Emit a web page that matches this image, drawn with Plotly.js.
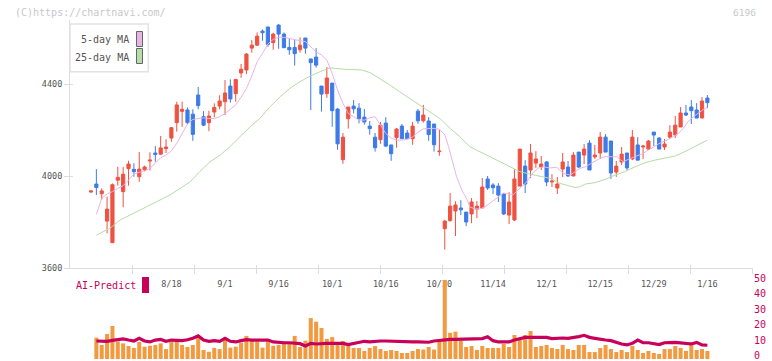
<!DOCTYPE html>
<html>
<head>
<meta charset="utf-8">
<script src="https://cdn.plot.ly/plotly-3.0.1.min.js"></script>
<style>html,body{margin:0;padding:0;background:#fff;}#chart{width:772px;height:361px;}</style>
</head>
<body>
<div id="chart"></div>
<script>
// ---- data (index = trading day) ----
const openP  = [3930,3965,3923,3804,3710,3982,3932,4032,4029,3997,4027,4065,4100,4095,4119,4165,4232,4281,4287,4269,4352,4258,4232,4278,4304,4323,4391,4358,4448,4461,4556,4569,4630,4648,4580,4656,4617,4559,4559,4549,4600,4509,4517,4391,4358,4404,4291,4071,4249,4304,4295,4256,4217,4169,4158,4230,4135,4167,4217,4187,4162,4282,4240,4239,4226,4106,3771,3806,3848,3861,3843,3835,3856,3861,3987,3961,3956,3922,3830,3809,3956,4043,4026,4056,4039,4061,3974,3948,4030,4039,4000,4104,4091,4143,4083,4100,4169,4152,4017,4061,4100,4074,4135,4126,4117,4191,4165,4126,4169,4178,4213,4274,4300,4287,4252,4339];
const highP  = [3937,4030,3946,3910,3968,4040,4040,4066,4055,4104,4045,4103,4130,4174,4160,4212,4323,4323,4298,4290,4387,4282,4284,4316,4351,4417,4420,4420,4487,4535,4591,4624,4637,4648,4623,4661,4624,4598,4591,4603,4600,4509,4556,4391,4474,4404,4295,4187,4300,4330,4317,4291,4239,4187,4235,4256,4135,4209,4226,4200,4235,4291,4309,4256,4226,4200,3809,3926,3890,3895,3843,3904,3891,3991,4000,3969,3969,3926,3930,4030,4117,4069,4139,4108,4087,4065,4008,3996,4100,4065,4104,4104,4139,4156,4135,4191,4182,4152,4065,4126,4100,4200,4169,4135,4156,4191,4169,4161,4221,4261,4300,4309,4330,4317,4343,4352];
const lowP   = [3928,3917,3896,3751,3710,3958,3864,3958,3997,3975,4020,4024,4062,4091,4100,4149,4193,4214,4226,4153,4290,4217,4195,4255,4290,4265,4319,4323,4427,4443,4536,4565,4588,4562,4549,4553,4556,4527,4480,4536,4532,4287,4471,4280,4340,4214,4114,4053,4206,4272,4229,4223,4180,4106,4140,4126,4066,4123,4162,4162,4136,4227,4232,4153,4106,4088,3680,3801,3739,3830,3782,3795,3817,3861,3939,3922,3887,3830,3791,3804,3956,3926,3991,4035,4026,3956,3952,3922,3996,3996,4000,4035,4052,4026,4074,4074,4104,3987,3996,4048,4026,4069,4069,4074,4113,4130,4117,4113,4161,4165,4213,4261,4226,4252,4252,4295];
const closeP = [3935,3950,3935,3856,3962,3994,4008,4052,4019,4030,4039,4069,4094,4122,4126,4210,4309,4290,4232,4181,4306,4221,4261,4298,4326,4361,4335,4420,4464,4530,4569,4608,4623,4572,4617,4617,4558,4549,4532,4569,4556,4493,4482,4356,4426,4284,4140,4169,4300,4292,4249,4235,4206,4123,4221,4130,4097,4204,4162,4162,4217,4240,4265,4180,4136,4108,3804,3869,3874,3853,3800,3887,3869,3952,3948,3949,3917,3835,3887,3987,4117,3965,4100,4074,4052,3974,3978,3965,4061,4000,4091,4039,4117,4026,4091,4169,4104,4013,4043,4095,4035,4169,4069,4130,4152,4178,4117,4139,4191,4221,4274,4265,4284,4252,4326,4319];
const volume = [0,13.5,8.9,15.8,20.9,11.0,9.9,8.2,7.0,10.8,7.8,8.4,8.9,9.9,6.3,11.0,11.0,8.9,7.6,8.9,13.1,5.7,4.6,7.0,6.3,12.0,7.2,7.8,10.3,14.6,11.6,11.0,7.2,11.0,8.4,8.9,9.9,9.9,14.6,7.6,11.6,25.9,23.6,19.6,12.7,13.9,9.3,11.4,8.9,7.0,7.0,5.1,7.0,8.2,6.3,5.1,5.7,5.1,3.8,3.8,5.1,6.3,6.0,7.6,6.0,11.4,50.0,16.6,17.3,11.4,7.6,8.2,5.7,8.2,7.0,7.0,7.0,9.5,7.6,15.2,12.0,15.2,17.7,7.6,8.2,8.9,7.0,6.3,8.9,6.3,5.7,8.9,8.9,4.4,4.4,7.0,8.9,6.3,4.4,5.7,4.4,8.2,5.7,3.8,5.1,3.8,3.2,6.3,6.3,8.2,7.0,5.1,10.8,5.7,6.3,5.1];
const aiPredict = [null,11.4,11.2,11.2,11.8,12.0,12.7,12.0,11.4,13.1,11.4,10.8,12.0,12.4,11.2,12.0,12.0,11.6,12.2,13.1,14.6,12.0,11.2,11.6,11.2,13.1,11.2,10.8,11.6,12.2,12.0,12.0,11.6,12.0,10.8,10.3,10.3,10.3,9.9,9.7,8.2,9.9,9.5,9.9,9.9,9.9,9.9,9.9,9.1,9.9,10.8,11.2,10.8,11.2,11.4,11.4,11.2,11.4,10.8,10.8,10.8,10.8,10.6,10.6,11.4,11.8,12.0,12.4,12.4,12.4,12.6,12.6,12.4,12.9,14.1,11.6,10.8,10.8,10.8,12.0,13.1,13.7,13.7,13.7,13.7,13.7,12.9,13.3,13.3,13.1,13.4,14.2,15.0,13.7,13.1,12.4,12.0,11.6,10.3,9.5,8.9,9.9,12.0,10.3,10.3,9.5,9.1,10.3,10.5,10.5,10.2,9.9,9.5,10.5,8.9,8.7];
const ma5Day = [1,2,3,4,5,6,7,8,9,10,11,12,13,14,15,16,17,18,19,20,21,22,23,24,25,26,27,28,29,30,31,32,33,34,35,36,37,38,39,40,41,42,43,44,45,46,47,48,49,50,51,52,53,54,55,56,57,58,59,60,61,62,63,64,65,66,66.7,67.3,68.2,69.2,70.1,70.7,71.6,72.6,73.5,75,76.9,78.8,80,81.3,82.5,83.5,84.4,85.6,86.9,88.1,89.4,90.3,91.2,92.2,93.1,94,95,95.9,96.5,97.4,98.1,98.7,99.3,100.2,101.2,102.1,103,104,104.9,105.8,106.8,107.7,108.6,109.6,110.5,111.4,112.4,113.3,114.3,115];
const ma5Val = [3833,3903,3922,3932,3946,3958,3982,4008,4016,4022,4033,4058,4080,4091,4109,4142,4185,4226,4246,4250,4253,4250,4250,4258,4272,4290,4309,4342,4381,4435,4497,4533,4574,4594,4603,4603,4597,4591,4588,4584,4562,4540,4526,4504,4446,4374,4316,4272,4258,4243,4243,4253,4258,4220,4185,4164,4156,4156,4160,4170,4190,4205,4207,4207,4203,4180,4128,4070,3997,3939,3900,3865,3857,3857,3866,3892,3925,3920,3945,3975,4015,4035,4040,4035,4038,4011,4004,4019,4033,4040,4052,4062,4077,4084,4084,4087,4084,4072,4062,4072,4081,4091,4098,4113,4124,4139,4149,4159,4171,4185,4207,4236,4258,4275,4290,4298];
const ma25Day = [1,3.5,5.4,7.3,9.1,11,12.9,14.7,16.6,18.5,20.3,22.2,24.1,25.9,27.8,29.7,31.5,33.4,35.3,37.1,39,40.9,42.7,44.6,47.4,50.5,52.1,53.9,55.8,57.6,59.5,61.4,63.2,65.1,67,68.8,70.7,72.6,74.4,76.3,78.2,80,81.9,83.8,85.6,87.5,89.4,90.3,91.2,92.2,94,95.9,97.8,99.6,101.5,103.4,105.2,107.1,109,110.8,112.7,114.6,115];
const ma25Val = [3743,3772,3808,3830,3852,3874,3895,3917,3946,3975,4019,4062,4091,4127,4171,4214,4250,4301,4345,4381,4410,4435,4453,4470,4464,4461,4449,4424,4395,4366,4337,4308,4279,4250,4207,4171,4127,4106,4084,4062,4040,4019,4008,4000,3990,3968,3956,3950,3953,3965,3971,3985,4004,4019,4040,4058,4069,4077,4087,4106,4130,4153,4156];
const dateLabels = ['8/18','9/1','9/16','10/1','10/16','10/30','11/14','12/1','12/15','12/29','1/16'];
const dateLabelDay = [15,25,35,45,55,65,75,85,95,105,115];
const priceTicks = [3600,4000,4400];
const volTicks = [0,10,20,30,40,50];
const legendNames = ['5-day MA','25-day MA'];

// ---- styling ----
const RED = '#ef5241', BLUE = '#3d7be9', PINK = '#e8b4e8', GREEN = '#b6dca8';
const ORANGE = '#f29a40', MAG = '#c8005a', AXIS = '#dddddd', TXT = '#555555';
const MONO = 'DejaVu Sans Mono, monospace';

const day = openP.map((_, i) => i);

// pixel geometry helpers (plot area 70..753 x 20..361)
const L = 70, R = 753, T = 20, B = 361, W = R - L, H = B - T;
const px = x => (x - L) / W;
const py = y => (B - y) / H;

const priceRange = [3600, 3600 + (268 - T) * 400 / 92];
// lower panel spans y=359..276; bars: 0 at 359, 1.58 px per unit
const volTopPx = 276, volBotPx = 359;
const volRange = [0, (volBotPx - volTopPx) / 1.58];
// right-hand scale labels: value 0 sits at y=355.5, 50 at y=278.3
const lblPerPx = 50 / (355.5 - 278.3);
const volLabelRange = [-(volBotPx - 355.5) * lblPerPx, 50 + (278.3 - volTopPx) * lblPerPx];

const tickPx = [];
for (let k = 0; k <= 10; k++) tickPx.push(132.3 + 62 * k);

const hidden = {mode:'markers', marker:{opacity:0}, hoverinfo:'skip', showlegend:false};

const traces = [
  {type:'bar', x: day, y: volume, xaxis:'x', yaxis:'y2', width:0.75,
   marker:{color:ORANGE, line:{width:0}}, hoverinfo:'skip'},
  {type:'scatter', mode:'lines', x: day, y: aiPredict, xaxis:'x', yaxis:'y2',
   line:{color:MAG, width:3.2}, hoverinfo:'skip'},
  {type:'scatter', mode:'lines', x: ma25Day, y: ma25Val, xaxis:'x', yaxis:'y',
   line:{color:GREEN, width:1}, hoverinfo:'skip'},
  {type:'scatter', mode:'lines', x: ma5Day, y: ma5Val, xaxis:'x', yaxis:'y',
   line:{color:PINK, width:1}, hoverinfo:'skip'},
  {type:'candlestick', x: day, open: openP, high: highP, low: lowP, close: closeP,
   xaxis:'x', yaxis:'y', whiskerwidth:0,
   increasing:{line:{color:RED, width:1}, fillcolor:RED},
   decreasing:{line:{color:BLUE, width:1}, fillcolor:BLUE}, hoverinfo:'skip'},
  // invisible helpers so the overlay tick / label axes get drawn
  Object.assign({type:'scatter', x:[L, R], y: priceRange, xaxis:'x2', yaxis:'y'}, hidden),
  Object.assign({type:'scatter', x:[L, R], y: priceRange, xaxis:'x3', yaxis:'y'}, hidden),
  Object.assign({type:'scatter', x: day, y: closeP, xaxis:'x', yaxis:'y3'}, hidden),
  Object.assign({type:'scatter', x: day, y: aiPredict, xaxis:'x', yaxis:'y4'}, hidden)
];

const layout = {
  width: 772, height: 361,
  margin: {l: L, r: 772 - R, t: T, b: 361 - B},
  paper_bgcolor: '#fff', plot_bgcolor: 'rgba(0,0,0,0)',
  showlegend: false, boxgap: 0.15,
  xaxis: {anchor:'y', range:[(L-91)/5.36, (R-91)/5.36], showgrid:false, zeroline:false,
          showline:true, linecolor:AXIS, linewidth:1,
          tickmode:'array', tickvals: dateLabelDay, ticktext: dateLabels,
          ticks:'outside', ticklen:8, tickcolor:'rgba(0,0,0,0)',
          tickfont:{family:MONO, size:8.5, color:TXT},
          rangeslider:{visible:false}, fixedrange:true},
  xaxis2: {overlaying:'x', anchor:'y', range:[L, R], showgrid:false, zeroline:false,
           showline:false, tickmode:'array', tickvals: tickPx, ticks:'outside', ticklen:5,
           tickcolor:AXIS, showticklabels:false, fixedrange:true},
  xaxis3: {overlaying:'x', anchor:'y', range:[L, R], showgrid:false, zeroline:false,
           showline:false, tickmode:'array', tickvals: tickPx, ticks:'inside', ticklen:3,
           tickcolor:AXIS, showticklabels:false, fixedrange:true},
  yaxis: {domain:[py(268), 1], range: priceRange, anchor:'x',
          showgrid:false, zeroline:false, showline:true, linecolor:AXIS, linewidth:1,
          tickmode:'array', tickvals: priceTicks, ticks:'outside', ticklen:5, tickcolor:AXIS,
          tickfont:{family:MONO, size:8.5, color:TXT}, fixedrange:true},
  yaxis3: {overlaying:'y', anchor:'x', range: priceRange,
           showgrid:false, zeroline:false, showline:false, tickmode:'array', tickvals: priceTicks,
           ticks:'inside', ticklen:3, tickcolor:AXIS, showticklabels:false, fixedrange:true},
  yaxis2: {domain:[py(volBotPx), py(volTopPx)], range: volRange, anchor:'x', side:'right',
           showgrid:false, zeroline:false, showline:false, showticklabels:false,
           ticks:'', fixedrange:true},
  yaxis4: {overlaying:'y2', anchor:'x', range: volLabelRange, side:'right',
           showgrid:false, zeroline:false, showline:false, tickmode:'array', tickvals: volTicks,
           ticks:'', ticklabeloverflow:'allow',
           tickfont:{family:MONO, size:10, color:MAG}, fixedrange:true},
  shapes: [
    {type:'rect', xref:'paper', yref:'paper', x0:px(70), x1:px(148.3), y0:py(24), y1:py(71.7),
     line:{color:'#e2e2e2', width:1.5}, fillcolor:'#fff', layer:'above'},
    {type:'rect', xref:'paper', yref:'paper', x0:px(136.5), x1:px(142.5), y0:py(31.5), y1:py(46.5),
     line:{color:'#666', width:1}, fillcolor:PINK, layer:'above'},
    {type:'rect', xref:'paper', yref:'paper', x0:px(136.5), x1:px(142.5), y0:py(48.5), y1:py(63.5),
     line:{color:'#666', width:1}, fillcolor:GREEN, layer:'above'},
    {type:'rect', xref:'paper', yref:'paper', x0:px(142), x1:px(149), y0:py(277), y1:py(293),
     line:{width:0}, fillcolor:MAG, layer:'above'}
  ],
  annotations: [
    {text:'(C)https://chartnavi.com/', xref:'paper', yref:'paper', x:px(13), y:py(12.5),
     xanchor:'left', yanchor:'middle', showarrow:false, font:{family:MONO, size:10, color:'#c8c8c8'}},
    {text:'6196', xref:'paper', yref:'paper', x:px(758), y:py(12.5),
     xanchor:'right', yanchor:'middle', showarrow:false, font:{family:MONO, size:9.5, color:'#c8c8c8'}},
    {text:legendNames[0], xref:'paper', yref:'paper', x:px(131), y:py(39.5),
     xanchor:'right', yanchor:'middle', showarrow:false, font:{family:MONO, size:10, color:TXT}},
    {text:legendNames[1], xref:'paper', yref:'paper', x:px(131), y:py(57),
     xanchor:'right', yanchor:'middle', showarrow:false, font:{family:MONO, size:10, color:TXT}},
    {text:'AI-Predict', xref:'paper', yref:'paper', x:px(74), y:py(285.5),
     xanchor:'left', yanchor:'middle', showarrow:false, font:{family:MONO, size:10, color:MAG}}
  ]
};

Plotly.newPlot('chart', traces, layout, {displayModeBar:false, staticPlot:true});
</script>
</body>
</html>
